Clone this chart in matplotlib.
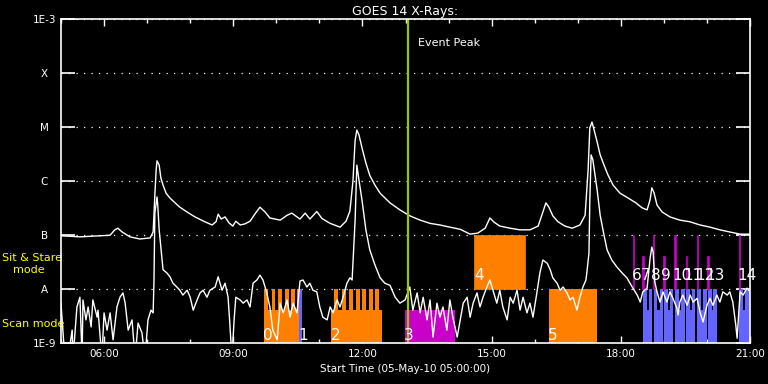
import numpy as np
import matplotlib.pyplot as plt
from matplotlib.ticker import FixedLocator, MultipleLocator, NullLocator
import matplotlib.transforms as mtransforms

# GOES 14 X-ray light curves, 05-May-10 (hours of day, log10 flux in W/m^2)
# upper curve: 1-8 A channel
long_hours = [5.00, 5.44, 5.91, 6.14, 6.25, 6.32, 6.42, 6.60, 6.83, 7.07, 7.14, 7.18, 7.21,
              7.23, 7.28, 7.32, 7.37, 7.44, 7.53, 7.65, 7.76, 7.93, 8.11, 8.34, 8.51, 8.60,
              8.65, 8.72, 8.81, 8.90, 8.99, 9.06, 9.16, 9.27, 9.39, 9.50, 9.62, 9.74, 9.85,
              10.09, 10.25, 10.36, 10.55, 10.67, 10.78, 10.94, 11.06, 11.25, 11.48, 11.62,
              11.71, 11.78, 11.83, 11.87, 11.92, 11.99, 12.08, 12.17, 12.29, 12.41, 12.64,
              12.87, 13.10, 13.34, 13.57, 13.80, 14.03, 14.27, 14.50, 14.68, 14.85, 14.96,
              15.06, 15.19, 15.43, 15.66, 15.89, 16.08, 16.19, 16.26, 16.33, 16.42, 16.54,
              16.70, 16.87, 17.05, 17.17, 17.24, 17.28, 17.33, 17.38, 17.45, 17.52, 17.61,
              17.70, 17.82, 17.98, 18.17, 18.35, 18.49, 18.61, 18.68, 18.72, 18.77, 18.84,
              18.96, 19.14, 19.37, 19.60, 19.84, 20.07, 20.30, 20.53, 20.77, 21.00]
long_logflux = [-7.02, -7.04, -7.02, -7.01, -6.91, -6.88, -6.95, -7.04, -7.08, -7.06, -6.95, -6.26, -5.80,
                -5.63, -5.71, -5.95, -6.08, -6.23, -6.32, -6.41, -6.49, -6.58, -6.67, -6.76, -6.82, -6.76,
                -6.62, -6.71, -6.67, -6.78, -6.84, -6.75, -6.82, -6.80, -6.75, -6.62, -6.49, -6.58, -6.69,
                -6.73, -6.64, -6.60, -6.71, -6.60, -6.71, -6.57, -6.70, -6.79, -6.86, -6.75,
                -6.56, -6.00, -5.25, -5.06, -5.15, -5.39, -5.67, -5.90, -6.08, -6.23, -6.41,
                -6.54, -6.65, -6.73, -6.79, -6.82, -6.86, -6.90, -6.99, -6.97, -6.88, -6.69,
                -6.77, -6.84, -6.88, -6.91, -6.91, -6.84, -6.58, -6.41, -6.49, -6.65, -6.76,
                -6.84, -6.88, -6.82, -6.64, -5.80, -5.02, -4.91, -5.06, -5.28, -5.52, -5.71,
                -5.89, -6.08, -6.23, -6.32, -6.41, -6.50, -6.54, -6.35, -6.13, -6.22, -6.45,
                -6.58, -6.67, -6.73, -6.76, -6.82, -6.86, -6.91, -6.95, -6.99, -6.99]

# lower curve: 0.5-4 A channel (values below 1E-9 fall off the plot)
short_hours = [5.00, 5.09, 5.16, 5.26, 5.28, 5.37, 5.44, 5.49, 5.51, 5.58, 5.63, 5.70, 5.74, 5.84,
               5.86, 5.95, 6.00, 6.07, 6.14, 6.21, 6.30, 6.37, 6.44, 6.49, 6.56, 6.65, 6.72, 6.79,
               6.88, 6.95, 7.02, 7.09, 7.14, 7.16, 7.18, 7.23, 7.25, 7.28, 7.32, 7.37, 7.46, 7.53,
               7.60, 7.69, 7.76, 7.83, 7.93, 8.00, 8.07, 8.16, 8.23, 8.30, 8.39, 8.46, 8.58, 8.65,
               8.74, 8.81, 8.88, 8.92, 8.97, 9.02, 9.06, 9.16, 9.23, 9.32, 9.39, 9.46, 9.55, 9.62,
               9.69, 9.78, 9.85, 9.92, 10.02, 10.09, 10.16, 10.25, 10.32, 10.39, 10.48, 10.55,
               10.62, 10.71, 10.78, 10.85, 10.94, 11.01, 11.08, 11.18, 11.25, 11.32, 11.41, 11.48,
               11.55, 11.64, 11.71, 11.76, 11.78, 11.83, 11.87, 11.92, 11.99, 12.08, 12.17, 12.29,
               12.41, 12.52, 12.64, 12.76, 12.87, 12.99, 13.10, 13.17, 13.27, 13.34, 13.41, 13.50,
               13.57, 13.64, 13.73, 13.80, 13.87, 13.96, 14.03, 14.10, 14.20, 14.27, 14.34, 14.43,
               14.50, 14.57, 14.66, 14.73, 14.80, 14.89, 14.96, 15.03, 15.12, 15.19, 15.26, 15.36,
               15.43, 15.50, 15.59, 15.66, 15.73, 15.82, 15.89, 15.96, 16.05, 16.12, 16.19, 16.29,
               16.36, 16.42, 16.52, 16.59, 16.66, 16.75, 16.82, 16.89, 16.98, 17.05, 17.12, 17.19,
               17.21, 17.26, 17.28, 17.31, 17.35, 17.40, 17.45, 17.52, 17.61, 17.68, 17.79, 17.91,
               18.03, 18.14, 18.28, 18.38, 18.45, 18.51, 18.61, 18.68, 18.72, 18.75, 18.79, 18.84,
               18.91, 18.98, 19.07, 19.14, 19.21, 19.30, 19.33, 19.37, 19.44, 19.54, 19.61, 19.68,
               19.77, 19.84, 19.91, 20.00, 20.07, 20.14, 20.23, 20.30, 20.37, 20.47, 20.53, 20.60,
               20.67, 20.70, 20.74, 20.77, 20.84, 20.93, 21.00]
short_logflux = [-8.27, -9.3, -9.3, -8.77, -9.3, -8.34, -8.16, -9.3, -8.21, -8.58, -8.34, -8.71, -8.21, -8.53,
                 -8.40, -9.3, -8.45, -8.77, -8.45, -8.95, -8.34, -8.16, -8.08, -8.27, -8.77, -8.58, -9.3, -8.64,
                 -8.82, -9.3, -8.58, -8.40, -8.45, -7.84, -6.60, -6.30, -6.49, -6.91, -7.23, -7.65, -7.71, -7.78,
                 -7.90, -7.97, -8.03, -8.12, -8.03, -8.16, -8.40, -8.21, -8.08, -8.03, -8.16, -8.03, -7.97, -7.78,
                 -8.03, -7.90, -8.16, -8.64, -9.3, -8.58, -8.16, -8.21, -8.27, -8.21, -8.34, -7.90, -7.84, -7.75,
                 -7.84, -8.08, -8.34, -8.77, -8.95, -8.27, -8.45, -8.21, -8.53, -8.27, -8.45, -7.86,
                 -7.84, -7.97, -7.90, -8.03, -8.06, -8.34, -8.53, -8.58, -8.34, -8.45, -8.21, -8.34,
                 -8.16, -7.90, -7.80, -7.84, -7.53, -6.73, -5.71, -5.99, -6.36, -6.91, -7.28, -7.56,
                 -7.80, -7.90, -7.94, -8.16, -8.27, -8.21, -7.97, -8.40, -8.08, -8.45, -8.16, -8.58,
                 -8.21, -8.90, -8.27, -8.53, -8.34, -8.77, -8.21, -8.53, -8.90, -8.58, -8.27, -8.16,
                 -8.53, -8.27, -8.08, -8.34, -8.16, -7.97, -7.84, -8.03, -8.27, -8.03, -8.34, -8.58,
                 -8.16, -8.27, -8.03, -8.40, -8.16, -8.45, -8.27, -8.53, -8.08, -7.71, -7.47, -7.53,
                 -7.65, -7.80, -7.90, -8.03, -7.97, -8.08, -8.21, -8.16, -8.40, -8.16, -7.97, -7.84,
                 -7.71, -7.34, -6.36, -5.52, -5.61, -5.89, -6.17, -6.64, -7.01, -7.28, -7.47, -7.60,
                 -7.71, -7.80, -7.99, -8.12, -8.25, -8.06, -7.99, -7.43, -7.23, -7.32, -7.88, -8.06,
                 -8.25, -8.06, -8.25, -8.06, -8.18, -8.36, -8.49, -8.25, -8.12, -8.31, -8.12, -8.25,
                 -8.18, -8.44, -8.62, -8.31, -8.18, -8.31, -8.12, -8.25, -8.06, -8.12, -8.06, -8.25,
                 -8.68, -8.92, -8.44, -8.06, -8.12, -7.99, -8.06]

# flux levels that bound the observation blocks
level_floor = 1e-9
level_scan_base = 10 ** -8.4
level_scan = 1e-8
level_stare = 1e-7
level_stare_short = 10 ** -7.4

# scan mode blocks (lower part of the scan band)
scan_start = [9.71, 11.27, 12.99, 18.51, 18.76, 19.00, 19.26, 19.51, 19.77, 20.02, 20.75]
scan_end = [10.53, 12.45, 14.15, 18.72, 18.97, 19.22, 19.48, 19.73, 19.99, 20.23, 21.00]
scan_color = ['o', 'o', 'm', 'b', 'b', 'b', 'b', 'b', 'b', 'b', 'b']

# scan mode rasters reaching the full scan band
raster_start = [9.71, 9.89, 10.05, 10.21, 10.35, 10.49, 10.52,
                11.34, 11.52, 11.69, 11.85, 12.00, 12.15, 12.30, 16.33,
                18.51, 18.65, 18.76, 18.90, 19.00, 19.14, 19.26, 19.40,
                19.51, 19.65, 19.77, 19.91, 20.02, 20.15, 20.75, 20.89]
raster_end = [9.81, 9.98, 10.13, 10.29, 10.43, 10.53, 10.59,
              11.43, 11.61, 11.78, 11.94, 12.09, 12.24, 12.39, 17.45,
              18.60, 18.72, 18.85, 18.97, 19.09, 19.22, 19.35, 19.48,
              19.60, 19.73, 19.86, 19.99, 20.11, 20.23, 20.84, 21.00]
raster_color = ['o', 'o', 'o', 'o', 'o', 'o', 'b',
                'o', 'o', 'o', 'o', 'o', 'o', 'o', 'o',
                'b', 'b', 'b', 'b', 'b', 'b', 'b', 'b',
                'b', 'b', 'b', 'b', 'b', 'b', 'b', 'b']

# sit & stare blocks
stare_start = [14.59, 18.28, 18.50, 18.75, 18.99, 19.24, 19.51, 19.76, 20.01, 20.74]
stare_end = [15.77, 18.31, 18.53, 18.78, 19.02, 19.27, 19.54, 19.79, 20.04, 20.77]
stare_tall = [True, True, False, True, False, True, False, True, False, True]
stare_color = ['o', 'm', 'm', 'm', 'm', 'm', 'm', 'm', 'm', 'm']

# observation numbers
obs_labels = ['0', '1', '2', '3', '4', '5', '6', '7', '8', '9', '10', '11', '12', '13', '14']
obs_label_hours = [9.70, 10.52, 11.27, 12.97, 14.60, 16.31, 18.25, 18.47, 18.70, 18.93,
                   19.20, 19.45, 19.72, 19.97, 20.71]
obs_is_scan = [True, True, True, True, False, True, False, False, False, False,
               False, False, False, False, False]

event_peak_hour = 13.06

ytick_values = [1e-9, 1e-8, 1e-7, 1e-6, 1e-5, 1e-4, 1e-3]
ytick_labels = ['1E-9', 'A', 'B', 'C', 'M', 'X', '1E-3']
xtick_hours = [6, 9, 12, 15, 18, 21]
xtick_labels = ['06:00', '09:00', '12:00', '15:00', '18:00', '21:00']

palette = {'o': '#ff8000', 'm': '#c800c8', 'b': '#6464ff'}

fig = plt.figure(figsize=(7.68, 3.84), dpi=100, facecolor='black')
ax = fig.add_axes([0.0794, 0.108, 0.8972, 0.8425], facecolor='black')
ax.set_yscale('log')

# observation blocks
ax.bar(scan_start, level_scan_base - level_floor, bottom=level_floor,
       width=np.subtract(scan_end, scan_start), align='edge',
       color=[palette[c] for c in scan_color], linewidth=0, zorder=2)
ax.bar(raster_start, level_scan - level_floor, bottom=level_floor,
       width=np.subtract(raster_end, raster_start), align='edge',
       color=[palette[c] for c in raster_color], linewidth=0, zorder=2)
stare_top = [level_stare if t else level_stare_short for t in stare_tall]
ax.bar(stare_start, np.subtract(stare_top, level_scan), bottom=level_scan,
       width=np.subtract(stare_end, stare_start), align='edge',
       color=[palette[c] for c in stare_color],
       edgecolor=[palette[c] for c in stare_color], linewidth=0.5, zorder=2)

# light curves
ax.plot(long_hours, 10 ** np.array(long_logflux), color='white', lw=1, zorder=3)
ax.plot(short_hours, 10 ** np.array(short_logflux), color='white', lw=1, zorder=3)

# event peak marker
ax.axvline(event_peak_hour, color='#96c800', lw=1.6, zorder=4)
ax.text(event_peak_hour + 0.23, 10 ** -3.44, 'Event Peak', color='white',
        fontsize=8, va='center', ha='left', zorder=5)

for lab, h, scan in zip(obs_labels, obs_label_hours, obs_is_scan):
    ax.text(h, 10 ** -8.95 if scan else 10 ** -7.84, lab, color='white',
            fontsize=11, ha='left', va='baseline', zorder=5)

# mode annotations left of the axis
trans = mtransforms.blended_transform_factory(fig.transFigure, ax.transData)
ax.text(2 / 768, 10 ** -7.44, 'Sit & Stare', color='yellow', fontsize=8,
        transform=trans, va='center', ha='left', clip_on=False)
ax.text(13 / 768, 10 ** -7.66, 'mode', color='yellow', fontsize=8,
        transform=trans, va='center', ha='left', clip_on=False)
ax.text(2 / 768, 10 ** -8.66, 'Scan mode', color='yellow', fontsize=8,
        transform=trans, va='center', ha='left', clip_on=False)

ax.set_xlim(5, 21)
ax.set_ylim(1e-9, 1e-3)
ax.xaxis.set_major_locator(FixedLocator(xtick_hours))
ax.set_xticklabels(xtick_labels)
ax.xaxis.set_minor_locator(MultipleLocator(1))
ax.yaxis.set_major_locator(FixedLocator(ytick_values))
ax.yaxis.set_minor_locator(NullLocator())
ax.set_yticklabels(ytick_labels)
for lab in ax.get_yticklabels():
    lab.set_horizontalalignment('center')

ax.tick_params(axis='x', which='major', direction='in', length=5, width=1,
               top=True, bottom=True, colors='white', labelsize=7.5, pad=5)
ax.tick_params(axis='x', which='minor', direction='in', length=2.7, width=1,
               top=True, bottom=True, colors='white')
ax.tick_params(axis='y', which='major', direction='in', length=10, width=1.2,
               left=True, right=True, colors='white', labelsize=7.5, pad=12)

ax.grid(axis='y', which='major', color='white', linestyle=(0, (1, 5)), lw=0.9, zorder=1)
ax.set_axisbelow(True)
for s in ax.spines.values():
    s.set_color('white')
    s.set_linewidth(1.2)
    s.set_zorder(6)

ax.set_title('GOES 14 X-Rays:', color='white', fontsize=9, pad=3)
ax.set_xlabel('Start Time (05-May-10 05:00:00)', color='white', fontsize=7.5, labelpad=3)

fig.savefig('out.png', dpi=100, facecolor='black')
